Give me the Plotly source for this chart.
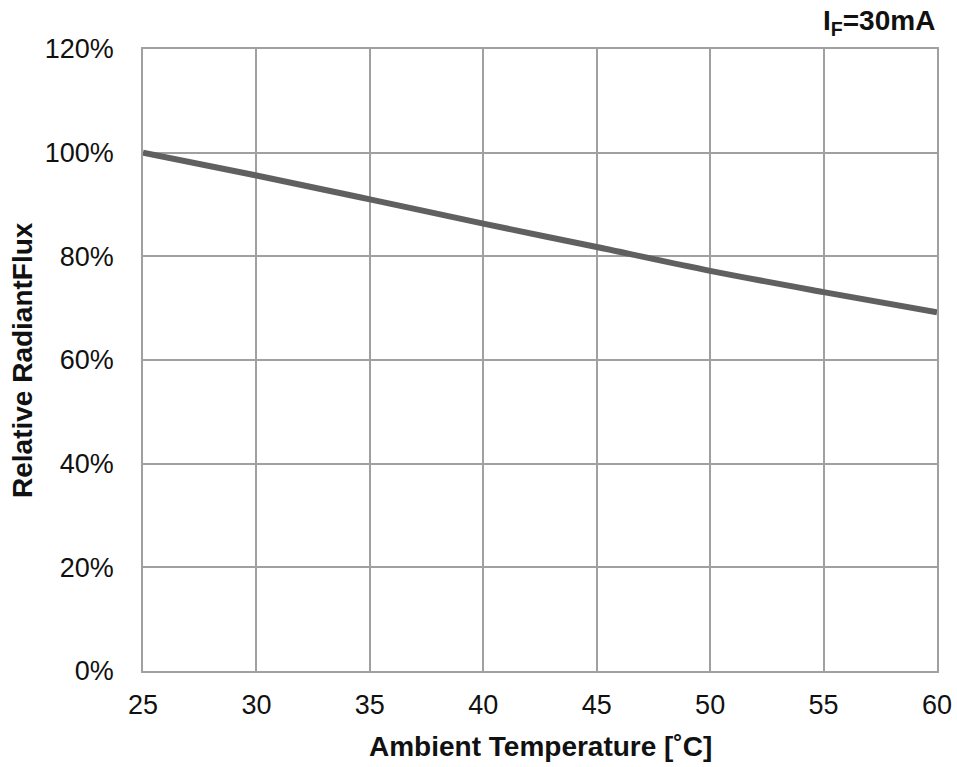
import plotly.graph_objects as go

temperature = [25, 30, 35, 40, 45, 50, 55, 60]
relative_flux = [100.0, 95.6, 91.0, 86.3, 81.8, 77.2, 73.1, 69.2]

x_ticks = [25, 30, 35, 40, 45, 50, 55, 60]
y_ticks = [0, 20, 40, 60, 80, 100, 120]
y_tick_labels = ["0%", "20%", "40%", "60%", "80%", "100%", "120%"]

fig = go.Figure()
fig.add_trace(go.Scatter(
    x=temperature, y=relative_flux, mode="lines",
    line=dict(color="#606060", width=6, shape="spline"),
    showlegend=False, hoverinfo="skip"))

fam = "Liberation Sans, Arial, sans-serif"
axis_font = dict(family=fam, size=27, color="#111111")
title_font = dict(family=fam, size=28, color="#111111")

fig.update_layout(
    width=957, height=767,
    margin=dict(l=143, r=20, t=49, b=96),
    plot_bgcolor="white", paper_bgcolor="white",
    xaxis=dict(range=[25, 60], tickvals=x_ticks, showgrid=True,
               gridcolor="#a0a0a0", gridwidth=1.5, showline=True,
               linecolor="#a0a0a0", linewidth=1.5, mirror=True,
               zeroline=False, tickfont=axis_font, ticks="",
               ticklabelstandoff=9, automargin=False),
    yaxis=dict(range=[0, 120], tickvals=y_ticks, ticktext=y_tick_labels,
               showgrid=True, gridcolor="#a0a0a0", gridwidth=1.5,
               showline=True, linecolor="#a0a0a0", linewidth=1.5, mirror=True,
               zeroline=False, tickfont=axis_font, ticks="",
               ticklabelstandoff=22, automargin=False),
    annotations=[
        dict(text="<b>I<sub>F</sub>=30mA</b>", xref="paper", yref="paper",
             x=1.0, y=1.0, xanchor="right", yanchor="middle", yshift=27,
             showarrow=False, font=title_font),
        dict(text="<b>Ambient Temperature [˚C]</b>", xref="paper", yref="paper",
             x=0.5, y=0.0, xanchor="center", yanchor="middle", yshift=-75,
             showarrow=False, font=title_font),
        dict(text="<b>Relative RadiantFlux</b>", xref="paper", yref="paper",
             x=0.0, y=0.5, xanchor="center", yanchor="middle", xshift=-121,
             textangle=-90, showarrow=False, font=title_font),
    ],
)

fig.write_html("out.html", config={"displayModeBar": False},
               post_script="document.body.style.margin='0';")
